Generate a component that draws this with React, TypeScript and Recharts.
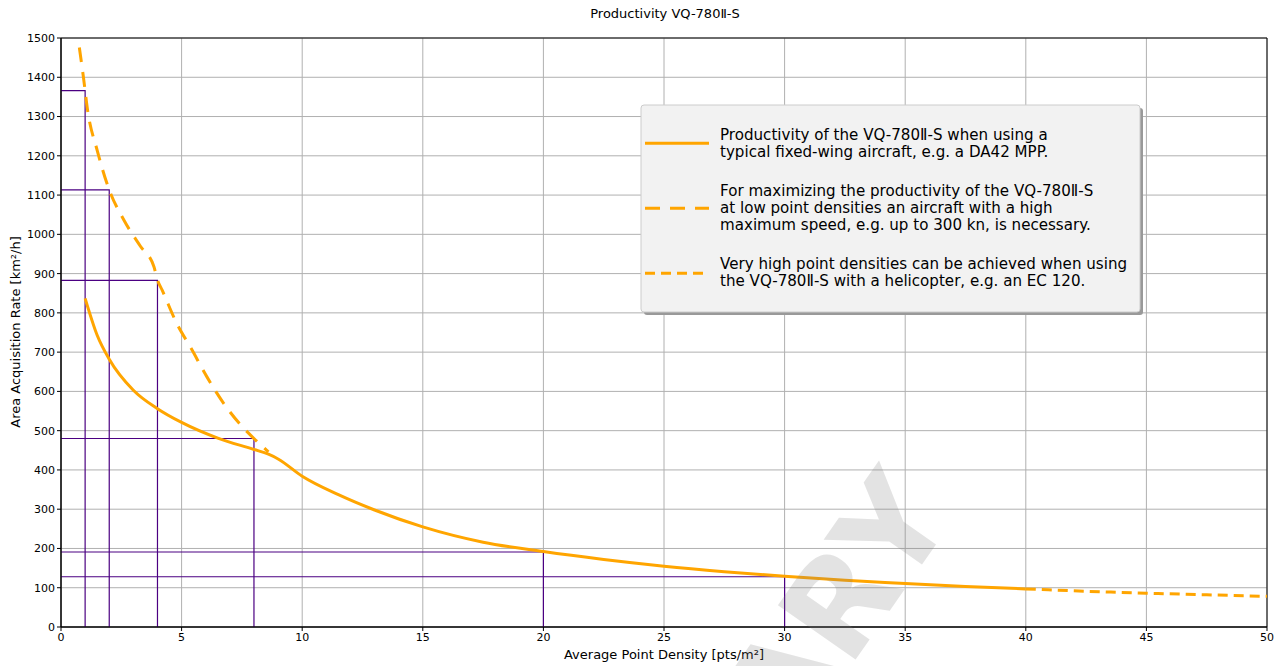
import React from 'react';
import { CartesianGrid, Line, LineChart, ReferenceArea, XAxis, YAxis } from 'recharts';

const FONT = '"DejaVu Sans", Verdana, sans-serif';
const ORANGE = '#ffa500';
const INDIGO = '#4b0082';

const xTicks = [0, 5, 10, 15, 20, 25, 30, 35, 40, 45, 50];
const yTicks = [0, 100, 200, 300, 400, 500, 600, 700, 800, 900, 1000, 1100, 1200, 1300, 1400, 1500];

// fixed-wing aircraft (solid)
const fixedWingX = [1, 1.5, 2, 3, 4, 5, 6.5, 8, 8.6, 9, 10, 11.5, 13, 15, 17.5, 20, 22.5, 25, 27.5, 30, 32.5, 35, 37.5, 40];
const fixedWingY = [837, 743, 682, 603, 556, 521, 481, 452, 440, 428, 384, 337, 298, 255, 216, 192, 172, 155, 141, 129, 119, 111, 103, 97];

// high-speed aircraft (long dashes)
const highSpeedX = [0.76, 0.93, 1.1, 1.5, 2, 2.6, 3.3, 3.85, 4, 4.2, 4.8, 5.4, 6.05, 6.75, 7.4, 8, 8.6];
const highSpeedY = [1476, 1400, 1317, 1214, 1113, 1037, 969, 918, 884, 857, 773, 709, 637, 569, 518, 480, 446];

// helicopter (short dashes)
const heliX = [40, 42.5, 45, 47.5, 50];
const heliY = [97, 91, 86, 82, 78];

// purple guide boxes from the origin
const boxX = [1, 2, 4, 8, 20, 30];
const boxY = [1366, 1113, 883, 480, 191, 128];

const legendLabels = [
  ['Productivity of the VQ-780Ⅱ-S when using a', 'typical fixed-wing aircraft, e.g. a DA42 MPP.'],
  [
    'For maximizing the productivity of the VQ-780Ⅱ-S',
    'at low point densities an aircraft with a high',
    'maximum speed, e.g. up to 300 kn, is necessary.',
  ],
  ['Very high point densities can be achieved when using', 'the VQ-780Ⅱ-S with a helicopter, e.g. an EC 120.'],
];
const legendDash = [undefined, '15 10', '10 6'];

const pts = (xs: number[], ys: number[]) => xs.map((x, i) => ({ x, y: ys[i] }));

const tickStyle = { fontSize: 11, fill: '#000', fontFamily: FONT };

export default function App() {
  return (
    <div style={{ position: 'absolute', left: 0, top: 0, width: 1283, height: 666, background: '#fff' }}>
      <LineChart width={1283} height={666} margin={{ top: 38, right: 16, bottom: 0, left: 0 }}>
        <CartesianGrid stroke="#b0b0b0" strokeWidth={1} />
        <XAxis
          dataKey="x"
          type="number"
          domain={[0, 50]}
          ticks={xTicks}
          interval={0}
          allowDataOverflow
          height={39}
          tickSize={4}
          tick={tickStyle}
          tickLine={{ stroke: '#000' }}
          axisLine={{ stroke: '#000' }}
        />
        <YAxis
          dataKey="y"
          type="number"
          domain={[0, 1500]}
          ticks={yTicks}
          interval={0}
          allowDataOverflow
          width={61}
          tickSize={4}
          tick={tickStyle}
          tickLine={{ stroke: '#000' }}
          axisLine={{ stroke: '#000' }}
        />
        <ReferenceArea x1={0} x2={50} y1={0} y2={1500} fill="none" stroke="#000" strokeWidth={1} />
        {boxX.map((bx, i) => (
          <Line
            key={'box' + i}
            data={[
              { x: 0, y: boxY[i] },
              { x: bx, y: boxY[i] },
              { x: bx, y: 0 },
            ]}
            dataKey="y"
            type="linear"
            stroke={INDIGO}
            strokeWidth={1.2}
            dot={false}
            activeDot={false}
            isAnimationActive={false}
          />
        ))}
        <Line
          data={pts(highSpeedX, highSpeedY)}
          dataKey="y"
          type="monotone"
          stroke={ORANGE}
          strokeWidth={3}
          strokeDasharray="15 10"
          dot={false}
          activeDot={false}
          isAnimationActive={false}
        />
        <Line
          data={pts(heliX, heliY)}
          dataKey="y"
          type="monotone"
          stroke={ORANGE}
          strokeWidth={3}
          strokeDasharray="10 6"
          dot={false}
          activeDot={false}
          isAnimationActive={false}
        />
        <Line
          data={pts(fixedWingX, fixedWingY)}
          dataKey="y"
          type="monotone"
          stroke={ORANGE}
          strokeWidth={3}
          dot={false}
          activeDot={false}
          isAnimationActive={false}
        />
      </LineChart>
      <svg
        width={1283}
        height={666}
        style={{ position: 'absolute', left: 0, top: 0, pointerEvents: 'none', fontFamily: FONT }}
      >
        <text x={665} y={17.5} textAnchor="middle" fontSize={13} fill="#000">
          Productivity VQ-780Ⅱ-S
        </text>
        <text x={664} y={659} textAnchor="middle" fontSize={13} fill="#000">
          Average Point Density [pts/m²]
        </text>
        <text x={19.5} y={332} textAnchor="middle" fontSize={13} fill="#000" transform="rotate(-90 19.5 332)">
          Area Acquisition Rate [km²/h]
        </text>
        <text
          x={956}
          y={516}
          textAnchor="end"
          fontSize={130}
          fontWeight="bold"
          fill="#808080"
          fillOpacity={0.22}
          transform="rotate(-55 956 516)"
        >
          PRELIMINARY
        </text>
        {/* legend */}
        <rect x={644} y={108} width={499} height={207} rx={3} fill="#999" />
        <rect x={641} y={105} width={499} height={207} rx={3} fill="#f2f2f2" stroke="#cccccc" />
        {legendLabels.map((lines, i) => {
          const starts = [139.7, 196, 268.7];
          const handleY = [143.3, 208.3, 273.3];
          return (
            <g key={'lg' + i}>
              <line
                x1={645}
                x2={709}
                y1={handleY[i]}
                y2={handleY[i]}
                stroke={ORANGE}
                strokeWidth={3}
                strokeDasharray={legendDash[i]}
              />
              {lines.map((t, j) => (
                <text key={j} x={720} y={starts[i] + j * 17} fontSize={15.1} fill="#000">
                  {t}
                </text>
              ))}
            </g>
          );
        })}
      </svg>
    </div>
  );
}
